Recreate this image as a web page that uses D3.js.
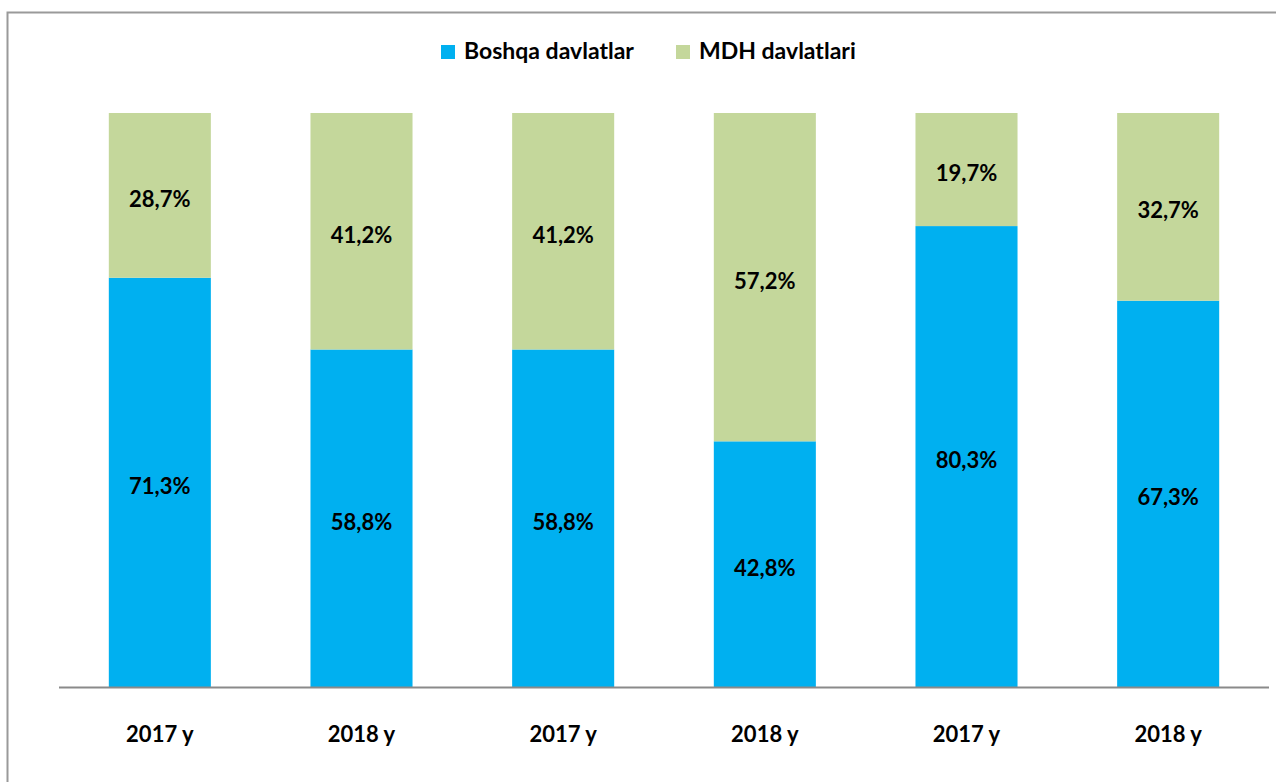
<!DOCTYPE html>
<html>
<head>
<meta charset="utf-8">
<script src="https://cdn.jsdelivr.net/npm/d3@7/dist/d3.min.js"></script>
<style>
  html, body { margin: 0; padding: 0; background: #fff; }
  svg { display: block; }
  text { font-family: Lato, "Open Sans", sans-serif; font-weight: bold; fill: #000; }
</style>
</head>
<body>
<svg id="chart" width="1276" height="782"></svg>
<script>
const categories = ["2017 y", "2018 y", "2017 y", "2018 y", "2017 y", "2018 y"];
const boshqa = [71.3, 58.8, 58.8, 42.8, 80.3, 67.3];
const mdh = [28.7, 41.2, 41.2, 57.2, 19.7, 32.7];
const seriesNames = ["Boshqa davlatlar", "MDH davlatlari"];
const colors = ["#00B0F0", "#C4D79B"];

const W = 1276, H = 782;
const svg = d3.select("#chart");

// frame
svg.append("path")
  .attr("d", `M7.5,${H} L7.5,12.5 L${W},12.5`)
  .attr("fill", "none").attr("stroke", "#9a9a9a").attr("stroke-width", 2);

const idx = categories.map((c, i) => i);
const x = d3.scaleBand().domain(idx).range([59, 1269]).paddingInner(0.494).paddingOuter(0.247);
const y = d3.scaleLinear().domain([0, 100]).range([687, 113]);

const fmt = v => d3.format(".1f")(v).replace(".", ",") + "%";

const stackData = idx.map(i => ({ i, b: boshqa[i], m: mdh[i] }));
const stack = d3.stack().keys(["b", "m"])(stackData);

const g = svg.append("g");
stack.forEach((layer, k) => {
  g.selectAll(null).data(layer).enter().append("rect")
    .attr("x", d => x(d.data.i))
    .attr("width", x.bandwidth())
    .attr("y", d => y(d[1]))
    .attr("height", d => y(d[0]) - y(d[1]))
    .attr("fill", colors[k]);
  g.selectAll(null).data(layer).enter().append("text")
    .attr("x", d => x(d.data.i) + x.bandwidth() / 2)
    .attr("y", d => (y(d[0]) + y(d[1])) / 2 + 6)
    .attr("text-anchor", "middle")
    .attr("dominant-baseline", "middle")
    .style("font-size", "22px")
    .text(d => fmt(d[1] - d[0]));
});

// x axis
const xAxis = d3.axisBottom(x).tickSize(0).tickFormat(i => categories[i]);
const ax = svg.append("g").attr("transform", "translate(0,687)").call(xAxis);
ax.select(".domain").attr("d", "M59,0.5H1269").attr("stroke", "#8a8a8a").attr("stroke-width", 2);
ax.selectAll(".tick text")
  .attr("y", 55).attr("dy", "0")
  .style("font-size", "22px")
  .style("font-family", "Lato, 'Open Sans', sans-serif")
  .style("font-weight", "bold")
  .attr("fill", "#000");

// legend
const legendItems = [
  { name: seriesNames[0], color: colors[0], sx: 441, tx: 464 },
  { name: seriesNames[1], color: colors[1], sx: 676, tx: 699 }
];
const lg = svg.append("g");
legendItems.forEach(it => {
  lg.append("rect").attr("x", it.sx).attr("y", 45).attr("width", 14).attr("height", 14).attr("fill", it.color);
  lg.append("text").attr("x", it.tx).attr("y", 53).attr("dominant-baseline", "middle")
    .style("font-size", "23px").text(it.name);
});
</script>
</body>
</html>
